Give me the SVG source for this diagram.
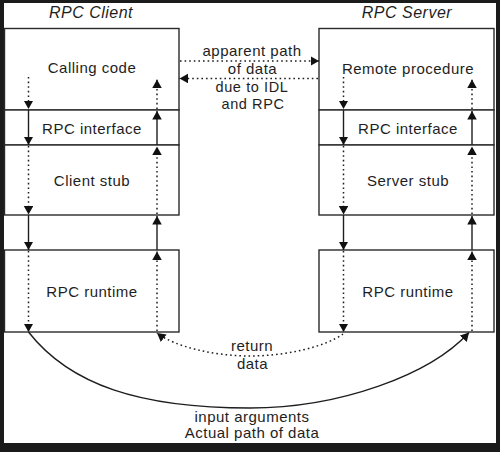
<svg xmlns="http://www.w3.org/2000/svg" width="500" height="452" viewBox="0 0 500 452">
<defs>
<style>
.frame{fill:#1b1b1b}
.paper{fill:#ffffff}
.box{fill:#ffffff;stroke:#2a2a2a;stroke-width:1.4}
.lbl{font-family:"Liberation Sans",Arial,sans-serif;font-size:15px;fill:#1e1e1e;text-anchor:middle;letter-spacing:0.5px}
.sm{font-size:14.5px;letter-spacing:0.6px}
.ttl{font-family:"Liberation Sans",Arial,sans-serif;font-size:16px;font-style:italic;fill:#1e1e1e;text-anchor:middle;letter-spacing:0.5px}
.solid{fill:none;stroke:#1e1e1e;stroke-width:1.4}
.dot{fill:none;stroke:#1e1e1e;stroke-width:1.5;stroke-dasharray:1.6 3}
</style>
<marker id="ah" markerUnits="userSpaceOnUse" markerWidth="10" markerHeight="10" refX="8.5" refY="4.75" orient="auto">
<path d="M0,0 L8.5,4.75 L0,9.5 z" fill="#111"/>
</marker>
</defs>
<rect class="frame" x="0" y="0" width="500" height="452"/>
<rect class="paper" x="4" y="3" width="492" height="440"/>

<g id="title-client"><text class="ttl" x="91" y="18">RPC Client</text></g>
<g id="title-server"><text class="ttl" x="407" y="18">RPC Server</text></g>

<g id="calling-code"><rect class="box" x="4.5" y="28.5" width="174.5" height="81.5"/><text class="lbl" x="92" y="73">Calling code</text></g>
<g id="client-rpc-interface"><rect class="box" x="4.5" y="110" width="174.5" height="35"/><text class="lbl" x="92" y="134">RPC interface</text></g>
<g id="client-stub"><rect class="box" x="4.5" y="145" width="174.5" height="70"/><text class="lbl" x="92" y="186">Client stub</text></g>
<g id="client-rpc-runtime"><rect class="box" x="4.5" y="250" width="174.5" height="82"/><text class="lbl" x="92" y="297">RPC runtime</text></g>

<g id="remote-procedure"><rect class="box" x="319" y="28.5" width="175" height="81.5"/><text class="lbl" x="408" y="74">Remote procedure</text></g>
<g id="server-rpc-interface"><rect class="box" x="319" y="110" width="175" height="35"/><text class="lbl" x="408" y="134">RPC interface</text></g>
<g id="server-stub"><rect class="box" x="319" y="145" width="175" height="70"/><text class="lbl" x="408" y="186">Server stub</text></g>
<g id="server-rpc-runtime"><rect class="box" x="319" y="250" width="175" height="82"/><text class="lbl" x="408" y="297">RPC runtime</text></g>

<g id="connectors">
<path class="dot" d="M180,61 L319,61" marker-end="url(#ah)"/>
<path class="dot" d="M318,78.5 L179.5,78.5" marker-end="url(#ah)"/>
<path class="dot" d="M28.5,77 L28.5,109" marker-end="url(#ah)"/>
<path class="solid" d="M28.5,110 L28.5,145" marker-end="url(#ah)"/>
<path class="dot" d="M28.5,146 L28.5,214.5" marker-end="url(#ah)"/>
<path class="solid" d="M28.5,215 L28.5,250" marker-end="url(#ah)"/>
<path class="dot" d="M28.5,251 L28.5,332" marker-end="url(#ah)"/>
<path class="dot" d="M157,331 L157,251.5" marker-end="url(#ah)"/>
<path class="solid" d="M157,250 L157,216" marker-end="url(#ah)"/>
<path class="dot" d="M157,214 L157,146.5" marker-end="url(#ah)"/>
<path class="solid" d="M157,145 L157,111" marker-end="url(#ah)"/>
<path class="dot" d="M157,109 L157,79.5" marker-end="url(#ah)"/>
<path class="dot" d="M343.5,77 L343.5,109" marker-end="url(#ah)"/>
<path class="solid" d="M343.5,110 L343.5,145" marker-end="url(#ah)"/>
<path class="dot" d="M343.5,146 L343.5,214.5" marker-end="url(#ah)"/>
<path class="solid" d="M343.5,215 L343.5,250" marker-end="url(#ah)"/>
<path class="dot" d="M343.5,251 L343.5,332" marker-end="url(#ah)"/>
<path class="dot" d="M472,331 L472,251.5" marker-end="url(#ah)"/>
<path class="solid" d="M472,250 L472,216" marker-end="url(#ah)"/>
<path class="dot" d="M472,214 L472,146.5" marker-end="url(#ah)"/>
<path class="solid" d="M472,145 L472,111" marker-end="url(#ah)"/>
<path class="dot" d="M472,109 L472,79.5" marker-end="url(#ah)"/>
<path class="dot" d="M343,334 C325,347 285,356 250,356 C215,356 175,347 157,333" marker-end="url(#ah)"/>
<path class="solid" d="M28.5,332 C70,385 140,408 250,408 C340,408 430,375 469,332.5" marker-end="url(#ah)"/>
</g>

<g id="labels">
<text class="lbl" x="252" y="56">apparent path</text>
<text class="lbl" x="252.5" y="74">of data</text>
<text class="lbl sm" x="252" y="92.3">due to IDL</text>
<text class="lbl sm" x="253" y="108.6">and RPC</text>
<text class="lbl" x="252" y="350.5">return</text>
<text class="lbl" x="252.5" y="369">data</text>
<text class="lbl" x="252" y="421.5">input arguments</text>
<text class="lbl" x="252" y="437.5">Actual path of data</text>
</g>
</svg>
